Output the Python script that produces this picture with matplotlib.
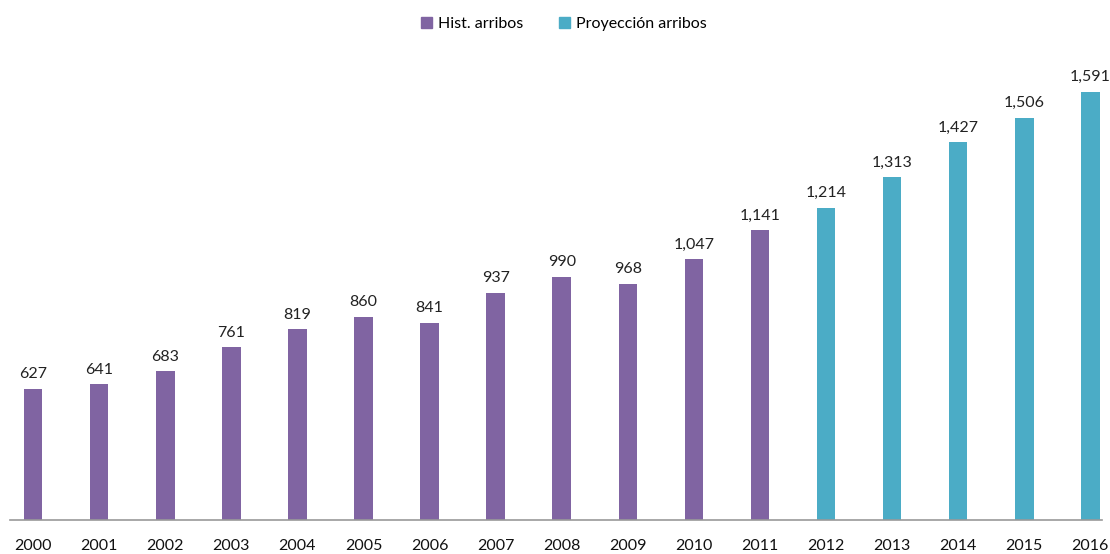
import matplotlib.pyplot as plt
from matplotlib.patches import Patch

plt.rcParams['font.family'] = ['Lato', 'DejaVu Sans']

# datos
anios = ['2000', '2001', '2002', '2003', '2004', '2005', '2006', '2007', '2008',
         '2009', '2010', '2011', '2012', '2013', '2014', '2015', '2016']
hist_arribos = [627, 641, 683, 761, 819, 860, 841, 937, 990, 968, 1047, 1141]
proy_arribos = [1214, 1313, 1427, 1506, 1591]

color_hist = '#8064A2'
color_proy = '#4BACC6'

fig = plt.figure(figsize=(11.1, 5.54), dpi=100)
ax = fig.add_axes([0.009, 0.0614, 0.984, 0.867])

x_hist = list(range(len(hist_arribos)))
x_proy = list(range(len(hist_arribos), len(anios)))

b1 = ax.bar(x_hist, hist_arribos, width=0.28, color=color_hist)
b2 = ax.bar(x_proy, proy_arribos, width=0.28, color=color_proy)

for barras in (b1, b2):
    for b in barras:
        v = b.get_height()
        ax.text(b.get_x() + b.get_width() / 2, v + 25, f'{v:,.0f}',
                ha='center', va='bottom', fontsize=11.5, color='#222222')

ax.set_ylim(200, 1760)
ax.set_xlim(-0.35, 16.18)
ax.set_xticks(range(len(anios)))
ax.set_xticklabels(anios, fontsize=11.5, color='#111111')
ax.tick_params(axis='x', length=0, pad=14)
ax.set_yticks([])
for s in ('top', 'right', 'left'):
    ax.spines[s].set_visible(False)
ax.spines['bottom'].set_color('#999999')
ax.spines['bottom'].set_linewidth(1.2)

handles = [Patch(color=color_hist, label='Hist. arribos'),
           Patch(color=color_proy, label='Proyección arribos')]
fig.legend(handles=handles, loc='upper center', bbox_to_anchor=(0.508, 0.995), ncol=2,
           frameon=False, fontsize=11.5, handlelength=0.7, handleheight=0.7,
           handletextpad=0.4, columnspacing=2.2)

fig.savefig('out.png', dpi=100)
